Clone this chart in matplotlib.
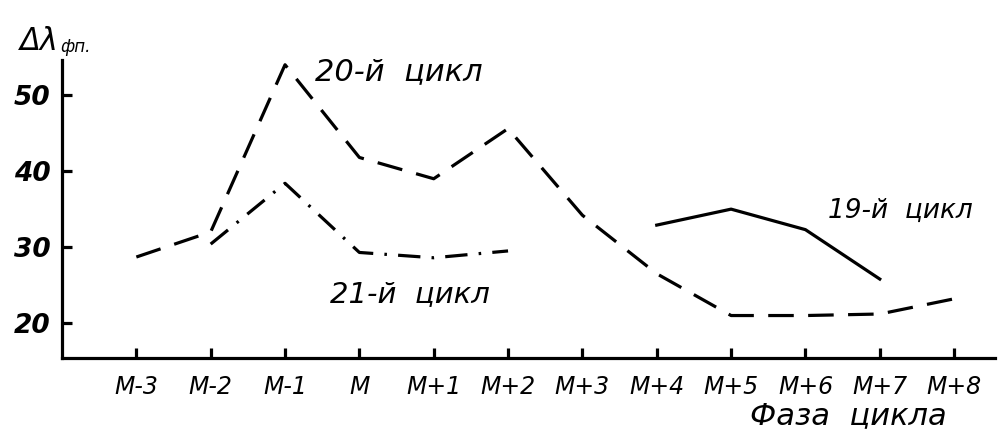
import matplotlib
matplotlib.use("Agg")
import matplotlib.pyplot as plt
import numpy as np

phases = ["M-3", "M-2", "M-1", "M", "M+1", "M+2", "M+3",
          "M+4", "M+5", "M+6", "M+7", "M+8"]

# 20-й цикл (dashed), M-3 .. M+8
cycle20 = [28.7, 32.0, 54.0, 41.8, 39.0, 45.6, 34.2, 26.5, 21.0, 21.0, 21.2, 23.2]
# 21-й цикл (dash-dot), M-2 .. M+2
cycle21_idx = [1, 2, 3, 4, 5]
cycle21 = [30.4, 38.4, 29.3, 28.6, 29.5]
# 19-й цикл (solid), M+4 .. M+7
cycle19_idx = [7, 8, 9, 10]
cycle19 = [32.9, 35.0, 32.3, 25.8]

yticks = [20, 30, 40, 50]

fig = plt.figure(figsize=(10, 4.33), dpi=100)
ax = fig.add_axes([0.062, 0.173, 0.933, 0.688])

x = np.arange(len(phases))
ax.plot(x, cycle20, color="black", lw=2.3, dashes=(8, 4.5))
ax.plot(cycle21_idx, cycle21, color="black", lw=2.3, dashes=(7, 3.5, 0.8, 3.5))
ax.plot(cycle19_idx, cycle19, color="black", lw=2.3)

ax.set_xlim(-1, 11.55)
ax.set_ylim(15.4, 54.6)

for s in ["top", "right"]:
    ax.spines[s].set_visible(False)
for s in ["left", "bottom"]:
    ax.spines[s].set_linewidth(2.3)

ax.set_xticks(x)
ax.set_xticklabels(phases)
ax.set_yticks(yticks)
ax.tick_params(axis="both", direction="in", length=7, width=2.3)
ax.tick_params(axis="x", pad=12, labelsize=17)
ax.tick_params(axis="y", pad=8, labelsize=19)
for lab in ax.get_xticklabels():
    lab.set_fontstyle("italic")
for lab in ax.get_yticklabels():
    lab.set_fontstyle("italic")
    lab.set_fontweight("bold")

txt = dict(fontstyle="italic", color="black")
ax.text(2.4, 52.0, "20-й  цикл", fontsize=22, **txt)
ax.text(2.6, 22.8, "21-й  цикл", fontsize=21, **txt)
ax.text(9.3, 33.8, "19-й  цикл", fontsize=19, **txt)

fig.text(0.02, 0.885, "Δλ", fontsize=22, fontstyle="italic")
fig.text(0.06, 0.88, "фп.", fontsize=12, fontstyle="italic")
fig.text(0.75, 0.02, "Фаза  цикла", fontsize=22, fontstyle="italic")

fig.savefig("out.png", dpi=100)
